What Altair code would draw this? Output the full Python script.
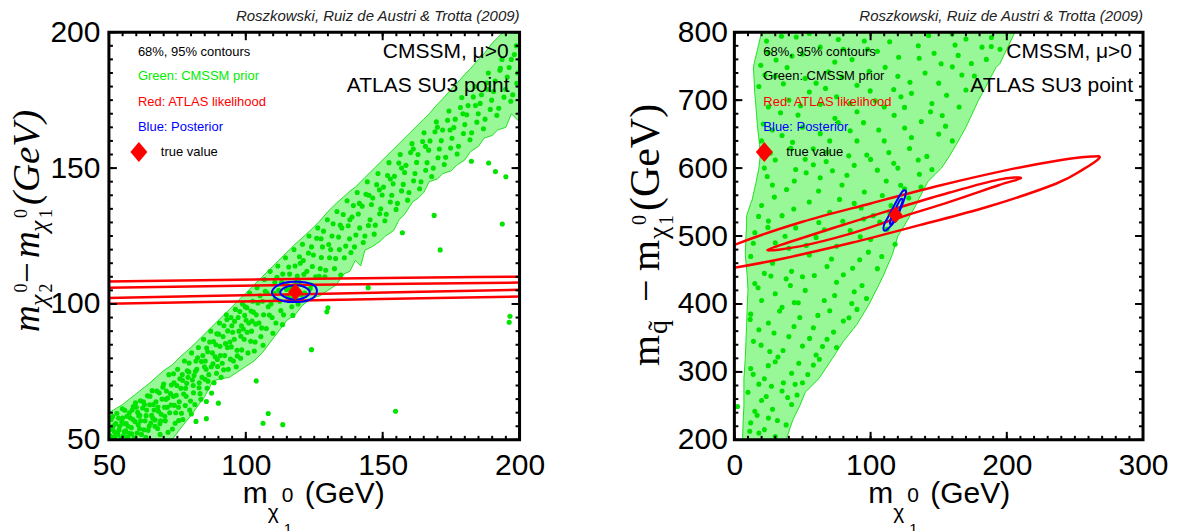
import altair as alt
import pandas as pd

SANS = "Liberation Sans"
SERIF = "Liberation Serif"
FILL_GREEN = "#98f898"
EDGE_GREEN = "#22e022"
DOT_GREEN = "#00e400"
RED = "#ff0000"
BLUE = "#0000ff"
CITE = "Roszkowski, Ruiz de Austri & Trotta (2009)"
DIAMOND = "M0,-1L0.85,0L0,1L-0.85,0Z"

# ================= Left panel: m_chi2 - m_chi1 vs m_chi1 =================
L_W, L_H = 411, 408
L_XDOM, L_YDOM = [50, 200], [50, 200]
L_XMAJOR = [50, 100, 150, 200]
L_YMAJOR = [50, 100, 150, 200]
L_XMINOR = list(range(50, 201, 5))
L_YMINOR = list(range(50, 201, 5))

# prior region (band): upper and lower edge versus m_chi1
lband_x = [50, 55, 60, 65, 70, 73, 76, 80, 85, 88, 91, 94, 97, 100, 103, 106, 109, 112, 115, 118,
           120.8, 124, 127, 130, 133, 135.8, 138, 140, 142, 143.5, 146, 149, 151, 154, 156, 158,
           161, 163, 165, 167, 170, 172, 175, 177, 180, 182, 185, 187, 190, 192, 195, 197, 200]
lband_hi = [60, 63, 67, 71, 75.5, 77.5, 80.5, 84, 89, 92, 95, 98, 101, 104, 107, 110, 113, 116, 119, 122,
            124.5, 127.5, 130.5, 134, 137, 139.5, 141.5, 143, 145, 146.5, 149, 152, 154, 157, 159, 161,
            164, 166, 168, 170, 173.5, 175.5, 179, 181, 184.5, 186.5, 190, 192, 196, 198, 201, 203, 205]
lband_lo = [50, 50, 50, 50, 50, 50, 54, 59, 66, 71.7, 72.5, 73, 75, 77, 79, 82, 86, 90, 94, 96,
            99.6, 102, 103, 105, 107, 111, 112, 116, 114, 119.8, 121, 123, 125, 127, 131, 133,
            137.6, 139, 141, 145, 146, 148, 149, 151, 153, 156, 158, 161, 162, 164, 165, 170, 167]

ldots_x = [50.5, 51.2, 51.8, 52.5, 53.1, 53.9, 54.4, 55.0, 55.6, 56.3, 56.9, 57.5, 58.2, 58.8, 59.3, 60.0,
           60.7, 61.3, 61.9, 62.6, 63.2, 63.8, 64.3, 65.0, 65.6, 66.2, 66.8, 67.5, 68.1, 68.7, 69.4, 70.0,
           70.6, 71.3, 71.9, 72.5, 73.2, 73.8, 74.4, 75.1, 75.7, 76.3, 77.0, 77.6, 78.2, 78.9, 79.5, 80.2,
           80.8, 81.4, 82.1, 82.7, 83.3, 84.0, 84.6, 85.2, 85.9, 86.5, 87.2, 87.8, 88.4, 89.1, 89.7, 90.4,
           91.0, 91.7, 92.3, 92.9, 93.6, 94.2, 94.9, 95.5, 96.2, 96.8, 97.5, 98.1, 98.8, 99.4, 100.1, 100.8,
           101.4, 102.1, 102.8, 103.4, 104.1, 104.8, 105.5, 106.1, 106.8, 107.5, 108.2, 108.9, 109.6, 110.3,
           111.0, 111.7, 112.4, 113.1, 113.8, 114.5, 115.3, 116.0, 116.8, 117.6, 118.3, 119.1, 119.9, 120.7,
           121.5, 122.3, 123.1, 123.9, 124.7, 125.5, 126.3, 127.2, 128.0, 128.9, 129.8, 130.6, 131.5, 132.4,
           133.3, 134.2, 135.1, 136.0, 137.0, 137.9, 138.8, 139.7, 140.7, 141.6, 142.5, 143.5, 144.4, 145.4,
           146.4, 147.3, 148.3, 149.3, 150.3, 151.3, 152.3, 153.3, 154.3, 155.4, 156.4, 157.5, 158.5, 159.6,
           160.7, 161.8, 162.9, 164.0, 165.1, 166.2, 167.3, 168.5, 169.6, 170.7, 171.9, 173.0, 174.2, 175.3,
           176.5, 177.7, 178.9, 180.0, 181.2, 182.5, 183.7, 184.9, 186.1, 187.4, 188.6, 189.8, 191.1, 192.4,
           193.6, 194.9, 196.2, 197.5, 198.8, 199.3,
           52.0, 53.5, 55.3, 57.0, 58.5, 60.3, 61.6, 63.0, 64.7, 66.0, 67.2, 68.9, 70.3, 71.0, 72.2, 73.5,
           74.8, 75.4, 76.8, 78.0, 79.2, 80.5, 81.8, 83.0, 84.3, 85.5, 86.8, 88.0, 89.4, 90.7, 92.0, 93.3,
           94.6, 95.8, 97.2, 98.4, 99.8, 101.1, 102.5, 103.8, 105.2, 106.5, 107.8, 109.2, 110.6, 112.0,
           113.5, 115.0, 116.5, 118.0, 119.5, 121.0, 124.0, 127.5, 131.0, 134.5, 138.0, 141.5, 145.0,
           148.8, 152.8, 156.9, 161.2, 165.6, 170.0, 174.6, 179.3, 183.9, 188.2, 192.8, 197.0,
           50.8, 51.6, 52.9, 53.3, 54.7, 55.8, 56.1, 57.8, 58.3, 59.7, 60.9, 61.2, 62.3, 63.5, 64.1, 65.3,
           66.5, 67.8, 68.4, 69.1, 70.8, 71.6, 72.8, 73.9, 74.2, 75.9, 76.5, 77.3, 78.6, 79.8, 80.1, 81.1,
           82.4, 83.6, 84.9, 85.7, 86.2, 87.5, 88.8, 89.3, 90.1, 91.4, 92.6, 93.1, 94.4, 95.2, 96.5, 97.8,
           98.5, 99.1, 100.4, 101.8, 102.3, 103.1, 104.4, 105.8, 106.3, 107.1, 108.6, 109.9, 110.8, 111.4,
           112.8, 113.4, 114.9, 115.7, 116.4, 117.2, 118.8, 119.6, 120.3, 121.2, 122.9, 123.5, 124.3, 125.9,
           126.8, 127.6, 128.4, 129.2, 130.3, 131.9, 132.8, 133.9, 134.7, 135.6, 136.5, 137.4, 138.4, 139.3,
           140.2, 141.1, 142.9, 143.9, 144.8, 145.9, 146.9, 147.8, 148.9, 149.8, 150.8, 151.8, 152.8, 153.8,
           154.9, 155.9, 156.9, 158.0, 159.1, 160.2, 161.3, 162.4, 163.5, 164.6, 165.7, 166.8, 167.9, 169.1,
           170.2, 171.4, 172.5, 173.7, 174.8, 176.0, 177.2, 178.4, 179.5, 180.7, 181.9, 183.1, 184.4, 185.6,
           186.8, 188.0, 189.3, 190.5, 191.7, 193.0, 194.3, 195.5, 196.8, 198.1, 199.0,
           50.3, 51.4, 52.2, 53.7, 54.9, 55.5, 56.6, 57.3, 58.9, 59.6, 60.5, 61.5, 62.8, 63.6, 64.9, 65.8,
           66.9, 67.9, 68.6, 69.7, 70.4, 71.5, 72.7, 73.6, 74.6, 75.5, 76.9, 77.9, 78.4, 79.3, 80.9, 81.6,
           82.9, 83.8, 85.1, 86.1, 87.4, 88.2, 89.6, 90.6, 91.9, 93.4, 94.7, 95.9, 96.9, 98.2, 99.6, 100.5,
           101.9, 103.6]
ldots_y = [51.5, 54, 50.8, 56, 52.5, 55, 50.5, 58, 53, 56, 51, 60, 54.5, 57.5, 50.8, 62,
           55.5, 59, 52, 64, 57, 61, 53.5, 66, 59, 63, 55, 68, 60.5, 52, 65, 70.5,
           57, 62, 74, 67, 54, 71, 60, 76, 64, 69, 57.5, 79, 66, 73, 61, 82,
           70, 63, 76, 84, 67, 73, 87, 79, 69, 74, 90, 82, 71, 85, 77, 93,
           73, 88, 81, 96, 76, 86, 92, 79, 98, 83, 90, 80, 100, 87, 94, 82,
           104, 90, 97, 86, 106, 93, 88, 101, 109, 91, 99, 112, 95, 104,
           93, 114, 101, 108, 96, 117, 103, 111, 99, 120, 108, 100, 115, 122,
           104, 112, 125, 107, 118, 110, 128, 113, 121, 110, 131, 117, 125, 113,
           134, 120, 128, 117, 138, 124, 132, 121, 141, 128, 136, 125, 145, 131,
           139, 129, 148, 135, 143, 133, 152, 140, 147, 137, 155, 144, 151, 141,
           159, 148, 155, 145, 163, 152, 160, 150, 167, 157, 164, 154, 171, 161,
           168, 158, 176, 166, 173, 163, 180, 170, 177, 168, 185, 175, 182, 172,
           190, 179, 187, 177, 195, 185,
           53, 58, 51.5, 55, 61, 52.5, 57, 63, 55, 58, 64, 57, 62, 68, 60, 66,
           70, 62, 74, 69, 75, 72, 79, 71, 81, 76, 86, 78, 89, 81, 92, 84,
           95, 87, 95, 92, 99, 93, 101, 96, 103, 96, 104, 100, 108, 105,
           111, 107, 106, 114, 108, 116, 121, 124, 120, 129, 131, 137, 140,
           142, 146, 150, 157, 158, 165, 164, 170, 173, 179, 186, 190,
           57.5, 55.2, 59.8, 51.9, 56.6, 60.9, 53.3, 58.1, 52.2, 63.6, 58.8, 54.1, 61.7, 50.9, 66.2, 56.2,
           61.0, 54.2, 67.3, 59.4, 64.9, 52.8, 70.2, 62.7, 56.1, 72.5, 59.8, 66.9, 75.4, 64.3, 59.5, 73.7,
           80.2, 64.9, 76.9, 83.8, 71.6, 67.2, 80.6, 74.5, 88.9, 78.2, 85.4, 94.3, 79.7, 89.6, 76.9, 97.2,
           83.1, 90.8, 98.6, 86.3, 93.7, 82.7, 100.4, 91.2, 84.8, 104.7, 95.9, 89.2, 101.7, 109.8,
           97.6, 92.4, 105.3, 113.6, 101.9, 95.8, 110.3, 117.4, 103.3, 110.9, 118.7, 105.6, 113.8, 124.2,
           110.2, 117.1, 126.8, 112.4, 121.9, 129.5, 116.7, 124.6, 110.6, 132.9, 121.3, 128.8, 118.9, 136.2,
           125.4, 133.1, 122.6, 140.4, 128.9, 136.6, 125.7, 143.9, 133.2, 140.1, 130.6, 147.3, 137.5, 144.2,
           134.8, 151.9, 141.6, 148.4, 138.2, 155.7, 145.3, 152.1, 142.4, 159.8, 149.2, 156.6, 146.9, 163.4,
           153.8, 160.1, 151.3, 167.6, 157.4, 164.9, 155.2, 172.3, 162.7, 169.6, 160.4, 176.2, 166.9, 173.8,
           164.5, 181.3, 171.6, 178.2, 169.4, 186.7, 176.1, 183.5, 174.6, 191.8, 181.2,
           53.8, 58.6, 51.2, 53.6, 61.4, 55.9, 58.7, 52.4, 62.3, 56.7, 60.1, 64.4, 53.7, 58.9, 62.9, 68.1,
           57.3, 62.1, 55.9, 69.4, 58.7, 65.4, 62.8, 74.3, 66.4, 57.1, 71.9, 62.6, 70.8, 78.3, 67.3, 75.2,
           69.2, 78.8, 72.3, 82.4, 76.9, 86.2, 79.6, 84.4, 75.8, 90.1, 84.2, 93.6, 80.9, 88.1, 95.8, 89.6,
           97.4, 92.6]

# scattered prior samples outside the band
lout_x = [182.4, 188.7, 191.2, 195.0, 168.8, 193.7, 157.2, 171.0, 144.7, 129.6, 130.0, 124.0, 196.2,
          196.5, 85.6, 90.0, 81.8, 85.6, 108.2, 106.3, 113.5, 154.7, 103.8]
lout_y = [152.5, 151.9, 148.7, 146.8, 132.6, 129.4, 126.2, 119.9, 106.0, 97.1, 98.6, 83.2, 93.3,
          95.5, 64.1, 63.5, 56.8, 57.8, 59.7, 56.1, 55.6, 60.5, 71.7]

# ATLAS likelihood contours (very elongated, running off both sides)
lred_x = [45, 125, 205]
lred_outer_top = [108.2, 109.3, 110.1]
lred_inner_top = [105.9, 107.1, 107.9]
lred_inner_bot = [102.1, 103.7, 105.3]
lred_outer_bot = [100.0, 101.4, 102.8]

# posterior contours
lblue_out_x = [109.5, 111, 114, 118, 122, 125, 126, 125, 122, 118, 114, 111]
lblue_out_y = [104.2, 106.4, 107.8, 108.2, 107.9, 106.8, 104.8, 102.6, 101.1, 100.7, 101.0, 102.2]
lblue_in_x = [112.6, 114, 117, 120.5, 123.3, 122, 118.5, 115]
lblue_in_y = [104.0, 105.9, 106.8, 106.6, 104.6, 102.6, 101.6, 102.2]

L_TRUE_X, L_TRUE_Y = [118.1], [104.4]

# ================= Right panel: m_squark - m_chi1 vs m_chi1 =================
R_W, R_H = 409, 408
R_XDOM, R_YDOM = [0, 300], [200, 800]
R_XMAJOR = [0, 100, 200, 300]
R_YMAJOR = [200, 300, 400, 500, 600, 700, 800]
R_XMINOR = list(range(0, 301, 10))
R_YMINOR = list(range(200, 801, 20))

rreg_y = [200, 230, 250, 270, 290, 320, 345, 370, 400, 420, 440, 473, 500, 516, 530, 548, 553, 580,
          600, 618, 635, 660, 699, 710, 748, 754, 775, 800]
rreg_xl = [6, 6.5, 7, 7, 7, 8, 8.5, 9, 9.5, 10, 9.5, 8, 8.5, 9, 9, 12, 13, 16,
           18, 19, 18.5, 17, 15.5, 15, 14, 14.5, 17, 20]
rreg_xr = [38, 43, 48, 52, 62, 72, 80, 90, 99, 104, 109, 116, 120, 125, 129, 134, 135, 142,
           152, 158, 163, 170, 179, 182, 192, 195, 200, 206]

rdots_x = [34.6, 45.4, 63, 95.4, 114, 162, 181.8, 188.6, 195, 135.7, 151.8, 160, 167, 174, 30.6, 38.7,
           22.4, 36, 52, 73.7, 79, 99, 117, 122.3, 103.4, 90, 63, 46.7, 27.9, 41.4, 63, 76.3, 90, 106,
           125, 144, 155, 52, 68, 84, 100, 117, 135.8, 137, 27.9, 44, 63, 79, 95.4, 111.5, 125,
           20, 35, 55, 70, 88, 102, 115, 128, 25, 62, 95,
           15, 30, 45, 60, 75, 85, 100, 112, 118, 40,
           12, 28, 42, 55, 68, 80, 92, 105, 22, 50,
           15, 30, 38, 52, 66, 75, 88, 97, 44, 20,
           12, 25, 35, 48, 58, 70, 80, 90, 18,
           14, 26, 40, 50, 60, 68, 32, 75,
           12, 22, 30, 42, 50, 58, 18, 36,
           10, 20, 28, 35, 42, 15, 46,
           12, 18, 25, 30, 38, 22,
           22, 30, 45, 58, 72, 88, 105, 120, 135, 145,
           20, 35, 50, 70, 85, 110, 130, 150, 160,
           25, 40, 55, 75, 85, 110, 130, 145, 165, 170,
           18, 30, 60, 90, 120, 140, 150, 185,
           25, 50, 80, 105, 135, 170, 55, 2.3,
           11.3, 16.7, 23.4, 31.6, 27.2, 39.1, 44.6, 13.8, 24.9, 35.7, 47.3, 53.9, 62.4, 19.6, 29.1, 43.8,
           55.2, 64.7, 72.8, 84.1, 11.6, 33.2, 46.9, 61.3, 73.6, 86.2, 93.7, 17.4, 26.8, 41.1, 58.7, 71.3,
           86.8, 98.4, 108.2, 13.9, 24.6, 37.2, 52.8, 66.1, 79.6, 92.4, 106.7, 114.2, 17.8, 29.4, 43.6,
           61.8, 77.2, 93.1, 108.6, 122.1, 24.1, 38.3, 52.7, 67.4, 82.6, 97.2, 113.4, 128.6, 141.3, 26.4,
           42.7, 57.9, 73.8, 94.8, 117.3, 137.2, 152.6, 21.3, 33.9, 48.6, 66.9, 99.7, 124.9, 155.8, 176.2,
           19.4, 42.3, 69.1, 86.4, 110.7, 128.9, 146.6, 164.3, 188.7, 23.6, 76.3, 97.8, 120.6, 142.6, 159.8]
rdots_y = [794, 793, 778, 787, 786, 781, 778, 779, 775, 761.7, 753.5, 749, 737, 754, 759, 748,
           737, 724, 732, 756, 734, 742.6, 715.7, 705, 699, 683, 694, 678, 656, 629, 650.7, 667, 640, 656,
           659, 683, 661.7, 613, 623.5, 618, 612.8, 607, 591, 572, 575, 581, 585.7, 575, 564.7, 581, 569.6,
           545, 530, 550, 535, 548, 530, 545, 556, 522, 520, 525,
           505, 490, 512, 498, 485, 508, 495, 510, 488, 482,
           470, 460, 448, 472, 455, 443, 465, 452, 445, 440,
           430, 415, 437, 420, 405, 432, 418, 408, 402, 405,
           385, 372, 395, 380, 365, 390, 375, 392, 362,
           345, 330, 352, 338, 325, 348, 322, 336,
           305, 290, 315, 298, 284, 310, 282, 284,
           270, 258, 245, 272, 252, 242, 266,
           225, 210, 232, 205, 222, 215,
           600, 612, 598, 605, 596, 604, 597, 600, 612, 598,
           640, 648, 660, 640, 655, 640, 645, 650, 640,
           690, 700, 712, 705, 695, 690, 710, 695, 690, 715,
           720, 735, 725, 722, 735, 740, 725, 760,
           770, 768, 775, 772, 780, 790, 798, 249,
           212.6, 236.1, 263.8, 228.4, 278.9, 262.3, 281.7, 296.4, 309.2, 331.6, 312.8, 296.1, 318.7, 339.4,
           357.2, 366.9, 349.3, 337.5, 358.6, 379.7, 377.3, 389.6, 401.8, 383.2, 412.4, 400.7, 427.1, 423.8,
           441.2, 427.3, 441.9, 466.2, 452.6, 476.3, 469.8, 489.4, 512.7, 499.6, 486.2, 509.3, 521.7, 498.8,
           520.4, 533.6, 528.9, 557.3, 539.8, 566.3, 553.9, 541.2, 559.7, 574.8, 587.6, 568.4, 593.1, 609.7,
           589.4, 619.3, 622.8, 628.9, 617.2, 622.1, 637.9, 628.3, 673.2, 666.9, 677.8, 668.6, 677.4, 664.8,
           681.4, 691.7, 717.3, 713.6, 689.3, 707.3, 735.6, 751.2, 764.8, 741.8, 759.7, 748.3, 726.4, 769.1,
           765.9, 792.3, 786.9, 789.2, 774.9, 763.2, 795.1, 797.6]

# ATLAS likelihood contours
rred_out_x = [-32, -20, 0, 50, 100, 150, 200, 240, 262, 268, 256, 236, 186, 136, 86, 36, -4, -26]
rred_out_y = [449, 466, 487, 521, 548, 574, 597, 612, 617, 615, 598, 577, 543, 516, 490, 467, 452, 447]
rred_in_x = [24.2, 48, 84, 121, 158, 194, 210.5, 194, 158, 121, 84, 48]
rred_in_y = [479.4, 496, 519, 542, 564, 583, 585.3, 574.8, 550.3, 527, 502.8, 484.8]

# posterior contours
rblue_out_x = [110, 113, 118, 122, 125, 126, 123.5, 119.5, 114, 110]
rblue_out_y = [508, 511, 523, 540, 556, 566, 566, 553, 532, 517]
rblue_in_x = [114.5, 117, 121, 123.5, 122, 118.5, 115]
rblue_in_y = [517, 522, 538, 552, 554, 541, 526]

R_TRUE_X, R_TRUE_Y = [118.3], [531]

ONE = alt.Data(values=[{"a": 1}])


def scales(xdom, ydom, xt, yt, ypad):
    X = alt.X("x:Q", scale=alt.Scale(domain=xdom, nice=False, zero=False),
              axis=alt.Axis(values=xt, title=None, labelFlush=False, labelOverlap=False,
                            format="d", labelPadding=11))
    Y = alt.Y("y:Q", scale=alt.Scale(domain=ydom, nice=False, zero=False),
              axis=alt.Axis(values=yt, title=None, labelFlush=False, labelOverlap=False,
                            format="d", labelPadding=ypad))
    return X, Y


def T(s, x, y, size, color="black", font=SANS, align="left", baseline="alphabetic",
      angle=0, italic=False):
    kw = dict(text=s, align=align, baseline=baseline, fontSize=size, font=font, color=color)
    if angle:
        kw["angle"] = angle
    if italic:
        kw["fontStyle"] = "italic"
    return alt.Chart(ONE).mark_text(**kw).encode(x=alt.value(x), y=alt.value(y))


def ticks(W, H, X, Y, xmaj, xmin, ymaj, ymin):
    out = []
    for vals, ln in ((xmaj, 8), (xmin, 4)):
        base = alt.Chart(pd.DataFrame({"x": vals})).mark_rule(color="black", strokeWidth=2)
        out.append(base.encode(x=X, y=alt.value(0), y2=alt.value(ln)))
        out.append(base.encode(x=X, y=alt.value(H), y2=alt.value(H - ln)))
    for vals, ln in ((ymaj, 8), (ymin, 4)):
        base = alt.Chart(pd.DataFrame({"y": vals})).mark_rule(color="black", strokeWidth=2)
        out.append(base.encode(y=Y, x=alt.value(0), x2=alt.value(ln)))
        out.append(base.encode(y=Y, x=alt.value(W), x2=alt.value(W - ln)))
    out.append(alt.Chart(ONE).mark_rect(fillOpacity=0, stroke="black", strokeWidth=3).encode(
        x=alt.value(0), x2=alt.value(W), y=alt.value(0), y2=alt.value(H)))
    return out


def closed(xs, ys, color, width, X, Y):
    df = pd.DataFrame({"x": xs, "y": ys, "i": list(range(len(xs)))})
    return alt.Chart(df).mark_line(interpolate="cardinal-closed", color=color, strokeWidth=width,
                                   clip=True).encode(x=X, y=Y, order="i:Q")


def legend(W, green_color):
    return [
        T("68%, 95% contours", 29, 20, 13, baseline="middle"),
        T("Green: CMSSM prior", 29, 44, 13, color=green_color, baseline="middle"),
        T("Red: ATLAS likelihood", 29, 70, 13, color=RED, baseline="middle"),
        T("Blue: Posterior", 29, 95, 13, color=BLUE, baseline="middle"),
        alt.Chart(ONE).mark_point(shape=DIAMOND, filled=True, color=RED, size=400, opacity=1).encode(
            x=alt.value(30), y=alt.value(120)),
        T("true value", 52, 120, 13, baseline="middle"),
        T("CMSSM, \u03bc>0", W - 11, 20, 21, align="right", baseline="middle"),
        T("ATLAS SU3 point", W - 10, 54, 21, align="right", baseline="middle"),
        T(CITE, W, -11, 15, color="#222222", align="right", italic=True),
    ]


def xtitle():
    return [
        T("m", 134, 471, 30),
        T("\u03c7", 159, 487, 21),
        T("0", 173, 470, 21),
        T("1", 175, 502, 15),
        T("(GeV)", 196, 471, 30),
    ]


# ---------------- build left panel ----------------
X, Y = scales(L_XDOM, L_YDOM, L_XMAJOR, L_YMAJOR, 9)
band = pd.DataFrame({"x": lband_x, "y": lband_hi, "y2": lband_lo})
left_layers = [
    alt.Chart(band).mark_area(color=FILL_GREEN, clip=True).encode(x=X, y=Y, y2=alt.Y2("y2")),
    alt.Chart(pd.DataFrame({"x": lband_x, "y": lband_hi})).mark_line(
        color=EDGE_GREEN, strokeWidth=1, clip=True).encode(x=X, y=Y),
    alt.Chart(pd.DataFrame({"x": lband_x, "y": lband_lo})).mark_line(
        color=EDGE_GREEN, strokeWidth=1, clip=True).encode(x=X, y=Y),
    alt.Chart(pd.DataFrame({"x": ldots_x + lout_x, "y": ldots_y + lout_y})).mark_circle(
        color=DOT_GREEN, size=26, opacity=1, clip=True).encode(x=X, y=Y),
]
red_rows = []
for name, ys in (("ot", lred_outer_top), ("it", lred_inner_top), ("ib", lred_inner_bot),
                 ("ob", lred_outer_bot)):
    for xv, yv in zip(lred_x, ys):
        red_rows.append({"x": xv, "y": yv, "g": name})
left_layers.append(alt.Chart(pd.DataFrame(red_rows)).mark_line(
    color=RED, strokeWidth=2.5, clip=True, interpolate="monotone").encode(x=X, y=Y, detail="g:N"))
left_layers.append(closed(lblue_out_x, lblue_out_y, BLUE, 2, X, Y))
left_layers.append(closed(lblue_in_x, lblue_in_y, BLUE, 2, X, Y))
left_layers.append(alt.Chart(pd.DataFrame({"x": L_TRUE_X, "y": L_TRUE_Y})).mark_point(
    shape=DIAMOND, filled=True, color=RED, size=300, opacity=1).encode(x=X, y=Y))
left_layers += ticks(L_W, L_H, X, Y, L_XMAJOR, L_XMINOR, L_YMAJOR, L_YMINOR)
left_layers += legend(L_W, "#00ee00")
left_layers += xtitle()
# y title (rotated), pieces of m_{chi2^0} - m_{chi1^0} (GeV)
BX = -70
left_layers += [
    T("m", BX, 300, 37, font=SERIF, angle=270, italic=True),
    T("\u03c7", BX + 8, 274, 26, font=SERIF, angle=270, italic=True),
    T("2", BX + 13, 260.5, 18, font=SERIF, angle=270),
    T("0", BX - 12, 260.5, 18, font=SERIF, angle=270),
    T("\u2212", BX, 251, 37, font=SERIF, angle=270),
    T("m", BX, 226, 37, font=SERIF, angle=270, italic=True),
    T("\u03c7", BX + 8, 200, 26, font=SERIF, angle=270, italic=True),
    T("1", BX + 13, 186, 18, font=SERIF, angle=270),
    T("0", BX - 12, 186, 18, font=SERIF, angle=270),
    T("(GeV)", BX, 173, 39, font=SERIF, angle=270, italic=True),
]
# layout anchor (top-left corner of the drawing)
left_layers.append(alt.Chart(ONE).mark_rule(opacity=0, strokeWidth=0).encode(
    x=alt.value(-101), x2=alt.value(-100), y=alt.value(-24), y2=alt.value(-23)))
left = alt.layer(*left_layers).properties(width=L_W, height=L_H)

# ---------------- build right panel ----------------
X, Y = scales(R_XDOM, R_YDOM, R_XMAJOR, R_YMAJOR, 7)
reg = pd.DataFrame({"y": rreg_y, "x": rreg_xl, "x2": rreg_xr})
right_layers = [
    alt.Chart(reg).mark_area(color=FILL_GREEN, orient="horizontal", clip=True).encode(
        y=Y, x=X, x2=alt.X2("x2")),
    alt.Chart(pd.DataFrame({"y": rreg_y, "x": rreg_xl})).mark_line(
        color=EDGE_GREEN, strokeWidth=1, clip=True).encode(x=X, y=Y, order="y:Q"),
    alt.Chart(pd.DataFrame({"y": rreg_y, "x": rreg_xr})).mark_line(
        color=EDGE_GREEN, strokeWidth=1, clip=True).encode(x=X, y=Y, order="y:Q"),
    alt.Chart(pd.DataFrame({"x": rdots_x, "y": rdots_y})).mark_circle(
        color=DOT_GREEN, size=26, opacity=1, clip=True).encode(x=X, y=Y),
    closed(rred_out_x, rred_out_y, RED, 2.5, X, Y),
    closed(rred_in_x, rred_in_y, RED, 2.5, X, Y),
    closed(rblue_out_x, rblue_out_y, BLUE, 2, X, Y),
    closed(rblue_in_x, rblue_in_y, BLUE, 2, X, Y),
    alt.Chart(pd.DataFrame({"x": R_TRUE_X, "y": R_TRUE_Y})).mark_point(
        shape=DIAMOND, filled=True, color=RED, size=280, opacity=1).encode(x=X, y=Y),
]
right_layers += ticks(R_W, R_H, X, Y, R_XMAJOR, R_XMINOR, R_YMAJOR, R_YMINOR)
right_layers += legend(R_W, "black")
right_layers += xtitle()
BR = -75
right_layers += [
    T("m", BR, 334, 40, font=SERIF, angle=270),
    T("q\u0303", BR + 8, 302, 28, font=SERIF, angle=270),
    T("\u2212", BR, 270, 40, font=SERIF, angle=270),
    T("m", BR, 239, 40, font=SERIF, angle=270),
    T("\u03c7", BR + 8, 207, 28, font=SERIF, angle=270),
    T("1", BR + 14, 193, 20, font=SERIF, angle=270),
    T("0", BR - 13, 193, 20, font=SERIF, angle=270),
    T("(GeV)", BR, 179, 42, font=SERIF, angle=270),
]
right = alt.layer(*right_layers).properties(width=R_W, height=R_H)

chart = alt.hconcat(left, right, spacing=215, bounds="flush").properties(
    padding=0, background="white"
).configure_view(strokeWidth=0).configure_axis(
    labelFont=SANS, labelFontSize=30, labelColor="black", domain=False, ticks=False, grid=False
)

chart.save("out.html", embed_options={"renderer": "svg", "actions": False})
